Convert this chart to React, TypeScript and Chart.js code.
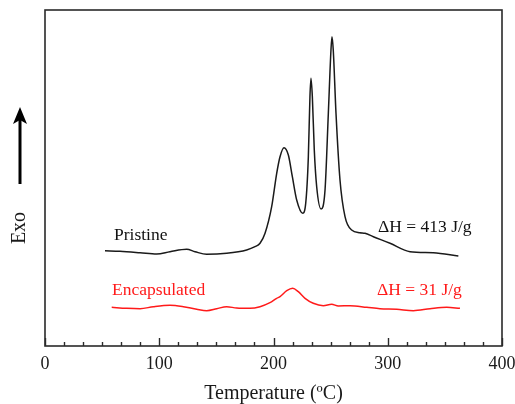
import React, { useEffect, useRef } from "react";
import { Chart, registerables } from "chart.js";

Chart.register(...registerables);

// Temperature axis
const X_MIN = 0;
const X_MAX = 400;
const X_MAJOR_TICKS = [0, 100, 200, 300, 400];
const X_MINOR_PER_MAJOR = 6;
const X_TITLE = "Temperature (ºC)";
const Y_TITLE = "Exo";
const Y_MIN = 0;
const Y_MAX = 336;

// Pristine DSC curve (temperature °C, heat flow arb. units)
const pristineT = [
  52.5, 65.6, 83.2, 97.8, 109.4, 124.0, 131.3, 141.5, 159.0, 176.5, 183.8, 188.2,
  192.6, 198.4, 202.8, 205.7, 209.2, 213.0, 216.5, 220.3, 225.6, 228.2, 230.5, 231.9,
  232.8, 234.0, 235.7, 237.8, 241.6, 245.1, 248.0, 250.3, 251.2, 252.3, 254.7, 258.2,
  262.6, 268.4, 275.7, 280.1, 287.4, 302.0, 319.5, 339.9, 361.8,
];
const pristineH = [
  95.3, 94.7, 93.3, 92.0, 94.3, 96.7, 94.3, 91.7, 92.7, 96.0, 99.3, 102.7,
  112.7, 139.3, 172.7, 189.3, 198.3, 191.0, 169.3, 146.0, 132.7, 142.7, 189.3, 249.3,
  267.7, 249.3, 196.0, 159.3, 137.0, 156.0, 232.7, 296.0, 309.3, 296.0, 232.7, 166.0,
  129.3, 116.0, 113.3, 112.7, 109.3, 102.7, 94.3, 93.3, 90.0,
];

// Encapsulated DSC curve
const encapT = [
  58.4, 71.5, 83.2, 94.8, 109.4, 121.1, 132.8, 141.5, 150.3, 159.0, 167.8, 179.4,
  188.2, 196.9, 202.8, 205.7, 211.6, 216.8, 221.7, 227.6, 234.8, 243.6, 250.9, 256.7,
  267.0, 281.6, 293.2, 307.8, 322.4, 337.0, 351.6, 363.2,
];
const encapH = [
  38.7, 37.7, 37.3, 39.3, 40.7, 39.3, 36.7, 35.3, 37.3, 39.3, 38.0, 37.7,
  39.3, 43.3, 47.7, 49.3, 55.3, 57.7, 54.3, 47.7, 42.7, 40.3, 41.7, 40.0,
  40.3, 38.7, 37.3, 36.7, 35.3, 37.3, 38.7, 37.7,
];

// Text annotations (data coordinates of left/baseline)
const annotTexts = ["Pristine", "ΔH = 413 J/g", "Encapsulated", "ΔH = 31 J/g"];
const annotX = [60.4, 291.5, 58.6, 290.6];
const annotY = [106, 114, 51, 51];
const annotColors = ["#111111", "#111111", "#ff1a1a", "#ff1a1a"];

const SERIF = '"Liberation Serif", "Times New Roman", serif';

const decorPlugin = {
  id: "decor",
  afterDraw(chart: any) {
    const ctx = chart.ctx as CanvasRenderingContext2D;
    const { left, right, top, bottom } = chart.chartArea;
    const xs = chart.scales.x;
    const ys = chart.scales.y;
    ctx.save();
    // frame
    ctx.strokeStyle = "#2a2a2a";
    ctx.lineWidth = 1.6;
    ctx.strokeRect(left, top, right - left, bottom - top);
    // inward ticks
    ctx.lineWidth = 1.4;
    const step = 100 / X_MINOR_PER_MAJOR;
    const n = Math.round((X_MAX - X_MIN) / step);
    for (let i = 0; i <= n; i++) {
      const v = X_MIN + i * step;
      const px = Math.round(xs.getPixelForValue(v)) + 0.5;
      const major = i % X_MINOR_PER_MAJOR === 0;
      const len = major ? 8 : 4;
      ctx.beginPath();
      ctx.moveTo(px, bottom);
      ctx.lineTo(px, bottom - len);
      ctx.stroke();
    }
    // tick labels
    ctx.fillStyle = "#1a1a1a";
    ctx.font = `18px ${SERIF}`;
    ctx.textAlign = "center";
    ctx.textBaseline = "middle";
    X_MAJOR_TICKS.forEach((v) => {
      ctx.fillText(String(v), xs.getPixelForValue(v), bottom + 18);
    });
    // x title
    ctx.font = `20px ${SERIF}`;
    ctx.fillText(X_TITLE, (left + right) / 2, bottom + 48);
    // y title rotated
    ctx.save();
    ctx.translate(20, 228);
    ctx.rotate(-Math.PI / 2);
    ctx.font = `20px ${SERIF}`;
    ctx.fillText(Y_TITLE, 0, 0);
    ctx.restore();
    // arrow
    ctx.strokeStyle = "#000";
    ctx.fillStyle = "#000";
    ctx.lineWidth = 3;
    ctx.beginPath();
    ctx.moveTo(20, 184);
    ctx.lineTo(20, 118);
    ctx.stroke();
    ctx.beginPath();
    ctx.moveTo(20, 107);
    ctx.lineTo(13, 124);
    ctx.lineTo(20, 120);
    ctx.lineTo(27, 124);
    ctx.closePath();
    ctx.fill();
    // annotations
    ctx.font = `17.5px ${SERIF}`;
    ctx.textAlign = "left";
    ctx.textBaseline = "alphabetic";
    annotTexts.forEach((t, i) => {
      ctx.fillStyle = annotColors[i];
      ctx.fillText(t, xs.getPixelForValue(annotX[i]), ys.getPixelForValue(annotY[i]));
    });
    ctx.restore();
  },
};

export default function App() {
  const ref = useRef<HTMLCanvasElement | null>(null);
  useEffect(() => {
    if (!ref.current) return;
    const chart = new Chart(ref.current, {
      type: "line",
      data: {
        datasets: [
          {
            label: "Pristine",
            data: pristineT.map((t, i) => ({ x: t, y: pristineH[i] })),
            borderColor: "#1a1a1a",
            borderWidth: 1.5,
            pointRadius: 0,
            cubicInterpolationMode: "monotone",
            fill: false,
          },
          {
            label: "Encapsulated",
            data: encapT.map((t, i) => ({ x: t, y: encapH[i] })),
            borderColor: "#ff1a1a",
            borderWidth: 1.5,
            pointRadius: 0,
            cubicInterpolationMode: "monotone",
            fill: false,
          },
        ],
      },
      options: {
        animation: false,
        responsive: false,
        layout: { padding: { left: 45, right: 13, top: 10, bottom: 58 } },
        plugins: { legend: { display: false }, tooltip: { enabled: false } },
        scales: {
          x: { type: "linear", min: X_MIN, max: X_MAX, display: false },
          y: { type: "linear", min: Y_MIN, max: Y_MAX, display: false },
        },
      },
      plugins: [decorPlugin],
    } as any);
    return () => chart.destroy();
  }, []);
  return (
    <div style={{ position: "absolute", left: 0, top: 0, width: 515, height: 404, background: "#fff" }}>
      <canvas ref={ref} width={515} height={404} />
    </div>
  );
}
